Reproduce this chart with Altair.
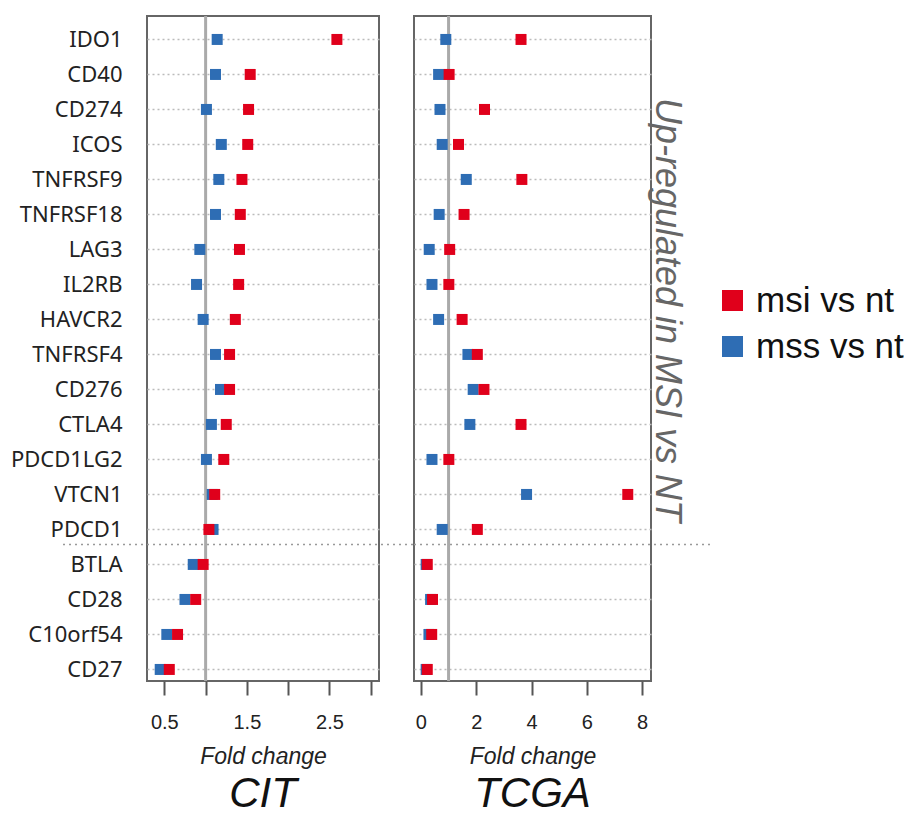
import altair as alt
import pandas as pd

genes = ["IDO1", "CD40", "CD274", "ICOS", "TNFRSF9", "TNFRSF18", "LAG3", "IL2RB",
         "HAVCR2", "TNFRSF4", "CD276", "CTLA4", "PDCD1LG2", "VTCN1", "PDCD1",
         "BTLA", "CD28", "C10orf54", "CD27"]

cit_msi = [2.59, 1.54, 1.52, 1.51, 1.44, 1.42, 1.41, 1.40, 1.36, 1.29, 1.29, 1.25,
           1.22, 1.11, 1.04, 0.97, 0.88, 0.66, 0.56]
cit_mss = [1.14, 1.12, 1.01, 1.19, 1.16, 1.12, 0.93, 0.89, 0.97, 1.12, 1.18, 1.07,
           1.01, 1.08, 1.09, 0.85, 0.75, 0.53, 0.45]
tcga_msi = [3.62, 1.02, 2.30, 1.36, 3.65, 1.56, 1.04, 1.01, 1.49, 2.04, 2.28, 3.62,
            1.01, 7.48, 2.04, 0.23, 0.42, 0.39, 0.23]
tcga_mss = [0.90, 0.64, 0.69, 0.77, 1.64, 0.66, 0.30, 0.40, 0.64, 1.70, 1.89, 1.77,
            0.40, 3.82, 0.77, 0.19, 0.35, 0.29, 0.19]

series = ["msi vs nt", "mss vs nt"]
colors = ["#e0001b", "#2e6db4"]

cit_ticks = [0.5, 1, 1.5, 2, 2.5, 3]
tcga_ticks = [0, 2, 4, 6, 8]


def make_df(msi, mss):
    rows = []
    for g, v in zip(genes, mss):
        rows.append({"gene": g, "fc": v, "series": "mss vs nt"})
    for g, v in zip(genes, msi):
        rows.append({"gene": g, "fc": v, "series": "msi vs nt"})
    return pd.DataFrame(rows)


yscale = alt.Scale(domain=genes, type="point", padding=0.5, align=0.67)
GRID = dict(grid=True, gridColor="#bbbbbb", gridDash=[2, 3], gridWidth=1.5,
            ticks=False, domain=False)


def panel(msi, mss, xdomain, xvalues, labelexpr, name, show_y, sep_x2, width, extra=None):
    df = make_df(msi, mss)
    if show_y:
        yaxis = alt.Axis(title=None, labelFont="Noto Sans", labelFontSize=22,
                         labelColor="#222222", labelPadding=25, **GRID)
    else:
        yaxis = alt.Axis(title=None, labels=False, **GRID)
    xscale = alt.Scale(domain=xdomain, nice=False, zero=False)
    xaxis = alt.Axis(title="Fold change", values=xvalues, labelExpr=labelexpr,
                     grid=False, domain=False, tickSize=14, tickWidth=2,
                     tickColor="#555555", labelFont="Liberation Sans",
                     labelFontSize=20, labelColor="#222222", labelPadding=17,
                     titleFont="Liberation Sans", titleFontSize=23,
                     titleFontStyle="italic", titleFontWeight="normal",
                     titleColor="#222222", titlePadding=13)

    ref = alt.Chart(pd.DataFrame({"fc": [1]})).mark_rule(
        color="#aaaaaa", strokeWidth=3).encode(
        x=alt.X("fc:Q", scale=xscale, axis=xaxis))

    sep = alt.Chart(pd.DataFrame({"gene": ["PDCD1"]})).mark_rule(
        color="#999999", strokeWidth=1.5, strokeDash=[2, 4], yOffset=15).encode(
        y=alt.Y("gene:N", scale=yscale, axis=yaxis),
        x=alt.value(-84 if show_y else 0), x2=alt.value(sep_x2))

    pts = alt.Chart(df).mark_square(size=121, opacity=1).encode(
        x=alt.X("fc:Q", scale=xscale, axis=xaxis),
        y=alt.Y("gene:N", scale=yscale, axis=yaxis),
        color=alt.Color("series:N", scale=alt.Scale(domain=series, range=colors),
                        legend=alt.Legend(title=None, orient="none",
                                          legendX=568, legendY=267,
                                          symbolType="square", symbolSize=441,
                                          symbolStrokeWidth=0, labelFontSize=35,
                                          labelFont="Liberation Sans",
                                          labelColor="#111111", labelOffset=6,
                                          rowPadding=10, padding=0)),
    )
    layers = [ref, sep, pts]
    if extra is not None:
        layers.append(extra)
    return alt.layer(*layers).properties(
        width=width, height=665,
        title=alt.TitleParams(name, orient="bottom", fontSize=42, fontStyle="italic",
                              font="Liberation Sans", fontWeight="normal",
                              color="#111111", offset=6))


note = alt.Chart(pd.DataFrame({"t": ["Up-regulated in MSI vs NT"]})).mark_text(
    angle=90, fontSize=36, fontStyle="italic", font="Liberation Sans",
    color="#666666", align="center", baseline="middle").encode(
    x=alt.value(253), y=alt.value(294), text="t:N")

cit = panel(cit_msi, cit_mss, [0.29, 3.1], cit_ticks,
            "datum.value == 0.5 || datum.value == 1.5 || datum.value == 2.5 ? datum.label : ''",
            "CIT", True, 267, 232)
tcga = panel(tcga_msi, tcga_mss, [-0.25, 8.32], tcga_ticks, "datum.label",
             "TCGA", False, 299, 237, extra=note)

chart = alt.hconcat(cit, tcga, spacing=35, bounds="flush").configure_view(
    stroke="#666666", strokeWidth=2).properties(
    padding={"left": 1, "top": 5, "right": 0, "bottom": 0})

chart.save("out.html", embed_options={"renderer": "svg", "actions": False})
